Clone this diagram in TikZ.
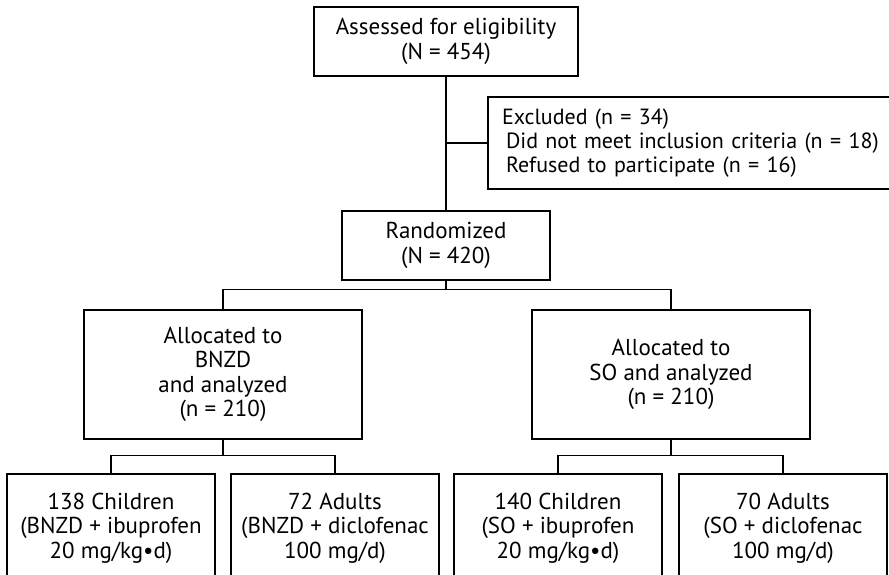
\documentclass[tikz,border=0pt]{standalone}
\usepackage{fontspec}
\setmainfont{PT Sans}
\usetikzlibrary{positioning}

\begin{document}
\begin{tikzpicture}[x=1pt,y=1pt,font=\fontsize{23}{24.5}\selectfont,
  box/.style={draw,line width=1.2pt,align=center,inner sep=0pt},
  link/.style={line width=1.2pt}]
  \useasboundingbox (0,0) rectangle (889,-575);
  % enrolment
  \node[box,minimum width=264,minimum height=69] (assess) at (446,-41.5)
    {Assessed for eligibility\\(N = 454)};
  \node[box,minimum width=432,minimum height=92,text width=404,align=left,
    font=\fontsize{22}{24}\selectfont] (excl) at (704,-143)
    {Excluded (n = 34)\\\hspace*{4pt}Did not meet inclusion criteria (n = 18)\\\hspace*{4pt}Refused to participate (n = 16)};
  \node[box,minimum width=208,minimum height=69] (rand) at (446,-245.5)
    {Randomized\\(N = 420)};
  % allocation
  \node[box,minimum width=278,minimum height=129] (bnzd) at (223,-374.5)
    {Allocated to\\BNZD\\and analyzed\\(n = 210)};
  \node[box,minimum width=278,minimum height=129] (so) at (671,-374.5)
    {Allocated to\\SO and analyzed\\(n = 210)};
  % subgroups
  \node[box,minimum width=208,minimum height=108] (bchild) at (111,-528)
    {138 Children\\(BNZD + ibuprofen\\20 mg/kg\textbullet d)};
  \node[box,minimum width=208,minimum height=108] (badult) at (335,-528)
    {72 Adults\\(BNZD + diclofenac\\100 mg/d)};
  \node[box,minimum width=208,minimum height=108] (schild) at (558,-528)
    {140 Children\\(SO + ibuprofen\\20 mg/kg\textbullet d)};
  \node[box,minimum width=208,minimum height=108] (sadult) at (783,-528)
    {70 Adults\\(SO + diclofenac\\100 mg/d)};
  % links
  \draw[link] (assess) -- (rand);
  \draw[link] (assess.south |- excl.west) -- (excl.west);
  \draw[link] (rand.south) -- ++(0,-9) -| (bnzd.north);
  \draw[link] (rand.south) -- ++(0,-9) -| (so.north);
  \draw[link] (bnzd.south) -- ++(0,-16) -| (bchild.north);
  \draw[link] (bnzd.south) -- ++(0,-16) -| (badult.north);
  \draw[link] (so.south) -- ++(0,-16) -| (schild.north);
  \draw[link] (so.south) -- ++(0,-16) -| (sadult.north);
\end{tikzpicture}
\end{document}
